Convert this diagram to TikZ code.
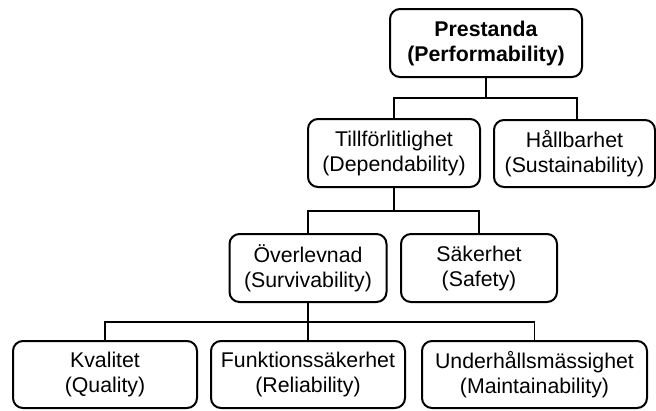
\documentclass[tikz,border=0pt]{standalone}
\usepackage{fontspec}
\setmainfont{Liberation Sans}
\begin{document}
\begin{tikzpicture}[x=1pt,y=-1pt,
  box/.style={draw=black, line width=2pt, rounded corners=10pt, align=center,
    inner sep=0pt, font=\fontsize{21.3}{25}\selectfont},
  wire/.style={draw=black, line width=1.7pt}]
  \useasboundingbox (0,0) rectangle (656,410);

  % boxes, top to bottom
  \node[box, minimum width=192pt, minimum height=68pt] (p) at (486,43)
    {\textbf{Prestanda}\\\textbf{(Performability)}};
  \node[box, minimum width=172pt, minimum height=68pt] (t) at (394,153)
    {Tillförlitlighet\\(Dependability)};
  \node[box, minimum width=161pt, minimum height=67pt] (h) at (574.5,153.5)
    {Hållbarhet\\(Sustainability)};
  \node[box, minimum width=157pt, minimum height=68pt] (o) at (308,268)
    {Överlevnad\\(Survivability)};
  \node[box, minimum width=156pt, minimum height=68pt] (s) at (479,268)
    {Säkerhet\\(Safety)};
  \node[box, minimum width=184pt, minimum height=67pt] (k) at (105,374.5)
    {Kvalitet\\(Quality)};
  \node[box, minimum width=194pt, minimum height=67pt] (f) at (308,374.5)
    {Funktionssäkerhet\\(Reliability)};
  \node[box, minimum width=225pt, minimum height=67pt] (u) at (534.5,374.5)
    {Underhållsmässighet\\(Maintainability)};

  % bus levels and the drop onto Hållbarhet
  \coordinate (b1) at (0,98);
  \coordinate (b2) at (0,211);
  \coordinate (b3) at (0,322);
  \coordinate (hx) at (577,0);

  % tree connectors
  \draw[wire] (p.south) -- (p.south |- b1);
  \draw[wire] (t.north) |- (hx |- b1) -- (hx |- h.north);

  \draw[wire] (t.south) -- (t.south |- b2);
  \draw[wire] (o.north) |- (s.north |- b2) -- (s.north);

  \draw[wire] (o.south) -- (f.north);
  \draw[wire] (k.north) |- (u.north |- b3) -- (u.north);
\end{tikzpicture}
\end{document}
